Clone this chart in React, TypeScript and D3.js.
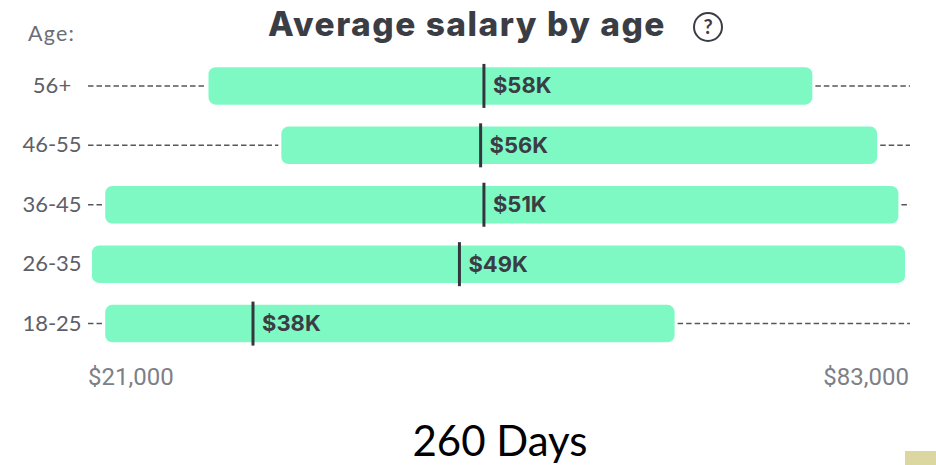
import React from 'react'
import * as d3 from 'd3'

const ages = ['56+', '46-55', '36-45', '26-35', '18-25']
const lows = [30100, 35600, 22300, 21300, 22300]
const highs = [75700, 80600, 82200, 82700, 65300]
const markers = [50900, 50650, 50900, 49050, 33460]
const markerLabels = ['$58K', '$56K', '$51K', '$49K', '$38K']
const axisTicks = [21000, 83000]

const width = 936
const height = 465

const x = d3.scaleLinear().domain([21000, 83000]).range([88, 909])
const y = d3.scaleBand().domain(ages).range([56.5, 353]).paddingInner(0.37).paddingOuter(0.18)

const money = d3.format('$,')
const ui = 'Lato, sans-serif'
const gap = 3

// whisker dashes only show when there is room between the axis end and the bar
function Whisker({ from, to, cy }: { from: number; to: number; cy: number }) {
	if (to - from < 3) return null
	return <line x1={from} x2={to} y1={cy} y2={cy} stroke="#55575e" strokeWidth={1.5} strokeDasharray="5.5 3" />
}

export default function App() {
	const bandwidth = y.bandwidth()
	return (
		<svg width={width} height={height} style={{ position: 'absolute', left: 0, top: 0, background: '#fff' }}>
			<text x={268} y={36} fontFamily="Inter" fontWeight={800} fontSize={33.5} letterSpacing={1.5} fill="#3b3d45">
				Average salary by age
			</text>
			<g transform="translate(708,27)" fill="none" stroke="#3b3d45">
				<circle r={14} strokeWidth={2} />
				<text y={7} textAnchor="middle" fontFamily={ui} fontWeight={700} fontSize={20} fill="#3b3d45" stroke="none">?</text>
			</g>
			<text x={28} y={41} fontFamily={ui} fontSize={21.5} letterSpacing={1.2} fill="#6b6e76">Age:</text>

			{ages.map((age, i) => {
				const cy = y(age)! + bandwidth / 2
				const left = x(lows[i])
				const right = x(highs[i])
				const mark = x(markers[i])
				return (
					<g key={age}>
						<text x={52} y={cy + 7} textAnchor="middle" fontFamily={ui} fontSize={22} fill="#5d6068">
							{age}
						</text>
						<Whisker from={x(21000)} to={left - gap} cy={cy} />
						<Whisker from={right + gap} to={x(83000) + 1} cy={cy} />
						<rect x={left} y={y(age)} width={right - left} height={bandwidth} rx={7} fill="#7ff9c4" />
						<line x1={mark} x2={mark} y1={cy - 22} y2={cy + 22} stroke="#33363d" strokeWidth={3} />
						<text x={mark + 9} y={cy + 7.5} fontFamily="Inter" fontWeight={700} fontSize={22} fill="#3b3d45">
							{markerLabels[i]}
						</text>
					</g>
				)
			})}

			{axisTicks.map((t, i) => (
				<text
					key={t}
					x={x(t)}
					y={385}
					textAnchor={i === 0 ? 'start' : 'end'}
					fontFamily="Roboto"
					fontSize={24}
					fill="#7d8087"
				>
					{money(t)}
				</text>
			))}

			<text x={500} y={456} textAnchor="middle" fontFamily="Lato" fontSize={42} fill="#000">260 Days</text>
			<rect x={905} y={451} width={31} height={14} fill="#dcd6a0" />
		</svg>
	)
}
